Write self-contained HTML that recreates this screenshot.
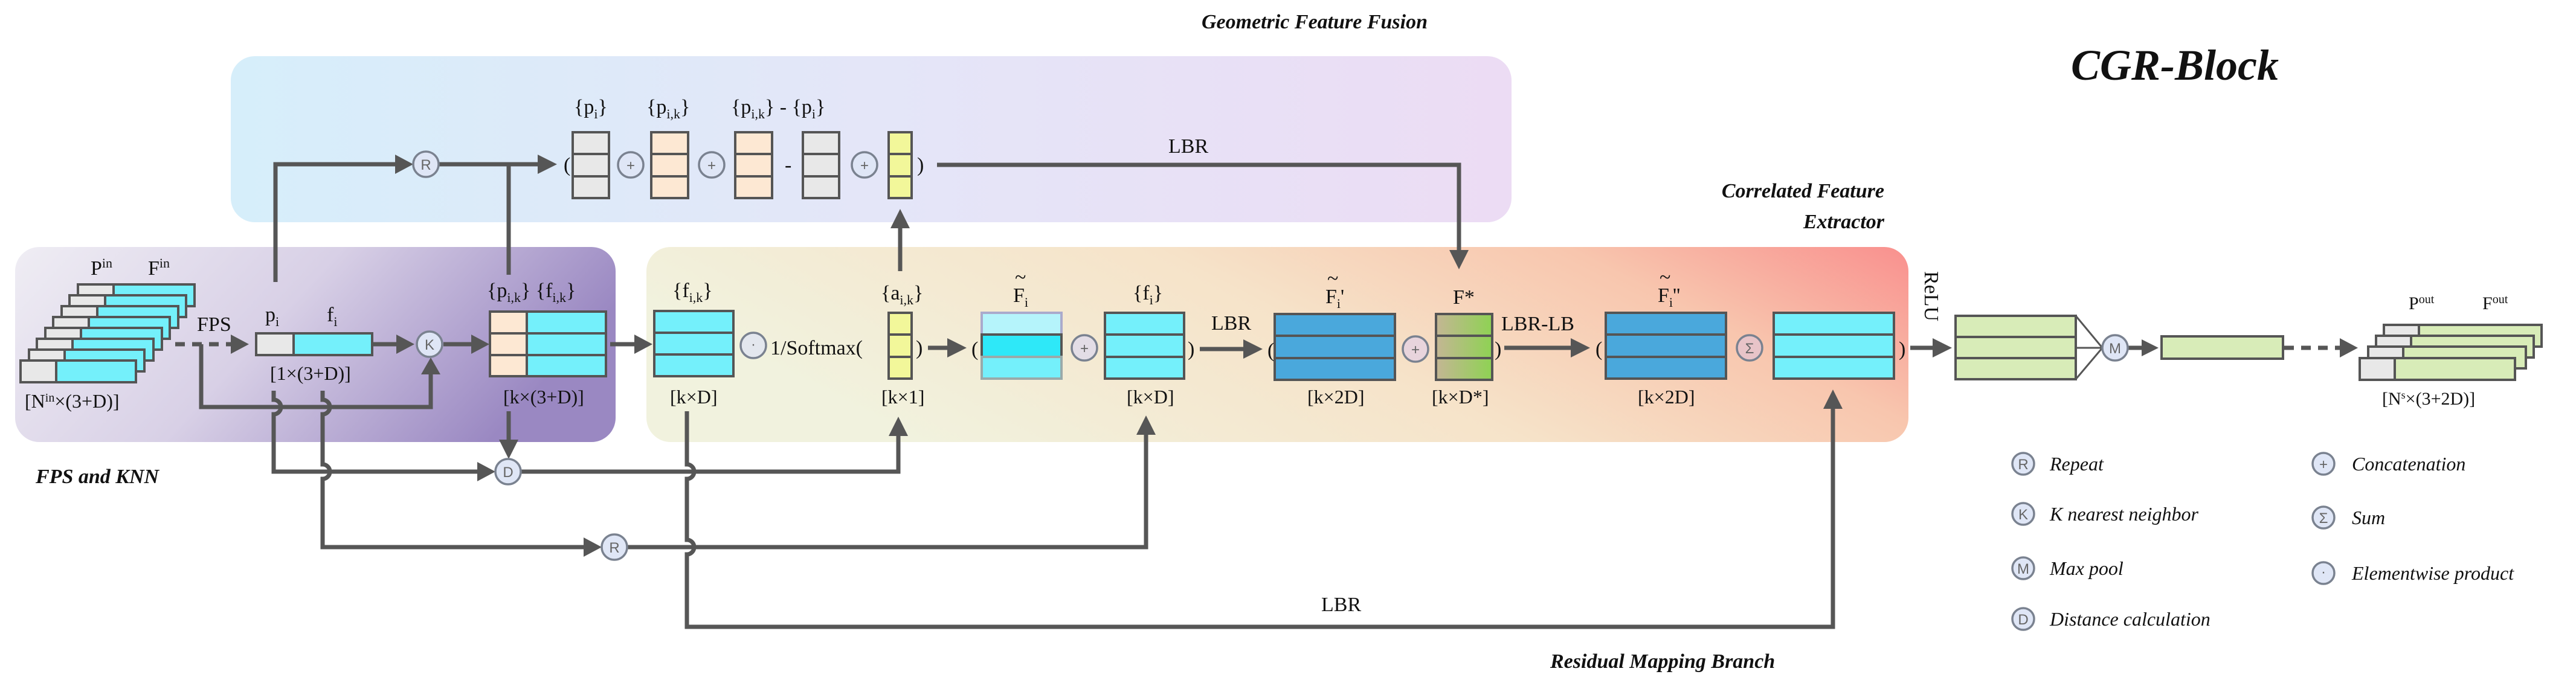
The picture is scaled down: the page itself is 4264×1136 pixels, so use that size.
<!DOCTYPE html>
<html><head><meta charset="utf-8"><style>
html,body{margin:0;padding:0;background:#fff;}
svg{display:block;font-family:"Liberation Serif","Times New Roman",serif;}
svg text{font-family:"Liberation Serif","Times New Roman",serif;fill:#111;}
svg text.lb{font-family:"Liberation Serif",serif;font-size:34px;}
svg text.it{font-family:"Liberation Serif",serif;font-style:italic;font-size:32px;}
svg text.ti{font-family:"Liberation Serif",serif;font-style:italic;font-weight:bold;font-size:34px;}
svg text.ct{font-family:"Liberation Sans",sans-serif;font-size:24px;fill:#666;text-anchor:middle;}
</style></head><body>
<svg width="4264" height="1136" viewBox="0 0 4264 1136" xmlns="http://www.w3.org/2000/svg" font-family="Liberation Serif, serif">
<defs>
<linearGradient id="gTop" x1="0" y1="0" x2="1" y2="0"><stop offset="0" stop-color="#d6eefa"/><stop offset="0.5" stop-color="#e4e6f8"/><stop offset="1" stop-color="#ecdcf4"/></linearGradient>
<linearGradient id="gPur" x1="0" y1="0" x2="1" y2="0.3"><stop offset="0" stop-color="#efedf4"/><stop offset="0.5" stop-color="#d8d0e6"/><stop offset="1" stop-color="#9a88c2"/></linearGradient>
<linearGradient id="gCor" x1="0" y1="0.3" x2="1" y2="0"><stop offset="0" stop-color="#f1f2de"/><stop offset="0.45" stop-color="#f6e3c9"/><stop offset="0.75" stop-color="#f8c6ae"/><stop offset="1" stop-color="#f9908e"/></linearGradient>
<linearGradient id="gF" x1="0" y1="0" x2="1" y2="0"><stop offset="0" stop-color="#c4b694"/><stop offset="1" stop-color="#8ed253"/></linearGradient>
</defs>

<rect x="382" y="93" width="2120" height="275" rx="40" fill="url(#gTop)"/>
<rect x="25" y="409" width="994" height="323" rx="40" fill="url(#gPur)"/>
<rect x="1070" y="409" width="2089" height="323" rx="40" fill="url(#gCor)"/>

<text class="ti" x="1989" y="47">Geometric Feature Fusion</text>
<text x="3428" y="132" font-family="Liberation Serif, serif" style="font-style:italic;font-weight:bold;font-size:72px;">CGR-Block</text>
<text class="ti" x="3119" y="327" text-anchor="end">Correlated Feature</text>
<text class="ti" x="3119" y="378" text-anchor="end">Extractor</text>
<text class="ti" x="59" y="800">FPS and KNN</text>
<text class="ti" x="2566" y="1106">Residual Mapping Branch</text>

<g stroke="#565656" stroke-width="7" fill="none">
<path d="M290 570 H384" stroke-dasharray="16 12"/>
<path d="M333 570 V674 H713 V620"/>
<path d="M616 570 H660"/><path d="M734 570 H780"/>
<path d="M456 467 V272 H656"/>
<path d="M726 272 H892"/>
<path d="M842 272 V455"/>
<path d="M453 647 V662 a12 12 0 0 1 0 24 V781 H790"/>
<path d="M534 647 V662 a12 12 0 0 1 0 24 V769 a12 12 0 0 1 0 24 V906 H966"/>
<path d="M842 681 V730"/>
<path d="M862 781 H1487 V720"/>
<path d="M1038 906 H1897 V718"/>
<path d="M1137 681 V769 a12 12 0 0 1 0 24 V894 a12 12 0 0 1 0 24 V1038 H3034 V675"/>
<path d="M1010 570 H1052"/>
<path d="M1490 449 V376"/>
<path d="M1551 273 H2415 V416"/>
<path d="M1536 576 H1570"/><path d="M1986 578 H2060"/><path d="M2490 576 H2602"/>
<path d="M3162 576 H3201"/><path d="M3522 576 H3545"/>
<path d="M3781 576 H3873" stroke-dasharray="16 12"/>
</g>
<g stroke="#565656" stroke-width="3" fill="none"><path d="M3436 523 L3480 576 L3436 628 M3436 576 H3480"/></g>

<g fill="#565656">
<polygon points="382,554 412,570 382,586"/>
<polygon points="656,554 686,570 656,586"/>
<polygon points="780,554 810,570 780,586"/>
<polygon points="697,620 713,592 729,620"/>
<polygon points="654,256 684,272 654,288"/>
<polygon points="890,256 922,272 890,288"/>
<polygon points="790,765 820,781 790,797"/>
<polygon points="966,890 996,906 966,922"/>
<polygon points="826,728 842,760 858,728"/>
<polygon points="1471,722 1487,690 1503,722"/>
<polygon points="1881,720 1897,688 1913,720"/>
<polygon points="3018,677 3034,645 3050,677"/>
<polygon points="1050,554 1080,570 1050,586"/>
<polygon points="1474,378 1490,346 1506,378"/>
<polygon points="2399,414 2415,446 2431,414"/>
<polygon points="1568,560 1600,576 1568,592"/>
<polygon points="2058,562 2090,578 2058,594"/>
<polygon points="2600,560 2632,576 2600,592"/>
<polygon points="3199,560 3231,576 3199,592"/>
<polygon points="3545,562 3573,576 3545,590"/>
<polygon points="3873,560 3903,576 3873,592"/>
</g>

<g stroke="#555" stroke-width="4">
<rect x="129" y="471" width="59" height="36" fill="#e8e8e8"/><rect x="188" y="471" width="134" height="36" fill="#74f0fb"/>
<rect x="115" y="489" width="59" height="36" fill="#e8e8e8"/><rect x="174" y="489" width="134" height="36" fill="#74f0fb"/>
<rect x="102" y="507" width="59" height="36" fill="#e8e8e8"/><rect x="161" y="507" width="134" height="36" fill="#74f0fb"/>
<rect x="88" y="525" width="59" height="36" fill="#e8e8e8"/><rect x="147" y="525" width="134" height="36" fill="#74f0fb"/>
<rect x="75" y="543" width="59" height="36" fill="#e8e8e8"/><rect x="134" y="543" width="134" height="36" fill="#74f0fb"/>
<rect x="61" y="561" width="59" height="36" fill="#e8e8e8"/><rect x="120" y="561" width="134" height="36" fill="#74f0fb"/>
<rect x="48" y="579" width="59" height="36" fill="#e8e8e8"/><rect x="107" y="579" width="132" height="36" fill="#74f0fb"/>
<rect x="34" y="597" width="59" height="36" fill="#e8e8e8"/><rect x="93" y="597" width="132" height="36" fill="#74f0fb"/>
<rect x="424" y="552" width="62" height="36" fill="#e8e8e8"/><rect x="486" y="552" width="130" height="36" fill="#74f0fb"/>
<rect x="811" y="516" width="61" height="36" fill="#fde8d3"/><rect x="811" y="552" width="61" height="36" fill="#fde8d3"/><rect x="811" y="588" width="61" height="35" fill="#fde8d3"/>
<rect x="872" y="516" width="131" height="36" fill="#74f0fb"/><rect x="872" y="552" width="131" height="36" fill="#74f0fb"/><rect x="872" y="588" width="131" height="35" fill="#74f0fb"/>
<rect x="948" y="219" width="60" height="36" fill="#e8e8e8"/><rect x="948" y="255" width="60" height="37" fill="#e8e8e8"/><rect x="948" y="292" width="60" height="36" fill="#e8e8e8"/>
<rect x="1078" y="219" width="61" height="36" fill="#fde8d3"/><rect x="1078" y="255" width="61" height="37" fill="#fde8d3"/><rect x="1078" y="292" width="61" height="36" fill="#fde8d3"/>
<rect x="1217" y="219" width="61" height="36" fill="#fde8d3"/><rect x="1217" y="255" width="61" height="37" fill="#fde8d3"/><rect x="1217" y="292" width="61" height="36" fill="#fde8d3"/>
<rect x="1329" y="219" width="60" height="36" fill="#e8e8e8"/><rect x="1329" y="255" width="60" height="37" fill="#e8e8e8"/><rect x="1329" y="292" width="60" height="36" fill="#e8e8e8"/>
<rect x="1471" y="219" width="38" height="36" fill="#f2f79a"/><rect x="1471" y="255" width="38" height="37" fill="#f2f79a"/><rect x="1471" y="292" width="38" height="36" fill="#f2f79a"/>
<rect x="1083" y="515" width="131" height="36" fill="#74f0fb"/><rect x="1083" y="551" width="131" height="36" fill="#74f0fb"/><rect x="1083" y="587" width="131" height="36" fill="#74f0fb"/>
<rect x="1471" y="518" width="38" height="36" fill="#f2f79a"/><rect x="1471" y="554" width="38" height="37" fill="#f2f79a"/><rect x="1471" y="591" width="38" height="36" fill="#f2f79a"/>
<rect x="1625" y="518" width="132" height="36" fill="#b5f4fb" stroke="#aac"/><rect x="1625" y="554" width="132" height="37" fill="#2ee8f8"/><rect x="1625" y="591" width="132" height="36" fill="#74f0fb" stroke="#9aa"/>
<rect x="1829" y="518" width="131" height="36" fill="#74f0fb"/><rect x="1829" y="554" width="131" height="37" fill="#74f0fb"/><rect x="1829" y="591" width="131" height="36" fill="#74f0fb"/>
<rect x="2110" y="520" width="199" height="36" fill="#4aa8dc"/><rect x="2110" y="556" width="199" height="37" fill="#4aa8dc"/><rect x="2110" y="593" width="199" height="36" fill="#4aa8dc"/>
<rect x="2377" y="520" width="93" height="36" fill="url(#gF)"/><rect x="2377" y="556" width="93" height="37" fill="url(#gF)"/><rect x="2377" y="593" width="93" height="36" fill="url(#gF)"/>
<rect x="2658" y="518" width="199" height="36" fill="#4aa8dc"/><rect x="2658" y="554" width="199" height="37" fill="#4aa8dc"/><rect x="2658" y="591" width="199" height="36" fill="#4aa8dc"/>
<rect x="2936" y="518" width="199" height="36" fill="#74f0fb"/><rect x="2936" y="554" width="199" height="37" fill="#74f0fb"/><rect x="2936" y="591" width="199" height="36" fill="#74f0fb"/>
<rect x="3237" y="523" width="199" height="35" fill="#d8ecb8"/><rect x="3237" y="558" width="199" height="35" fill="#d8ecb8"/><rect x="3237" y="593" width="199" height="35" fill="#d8ecb8"/>
<rect x="3578" y="557" width="201" height="37" fill="#d8ecb8"/>
<rect x="3946" y="538" width="58" height="36" fill="#e8e8e8"/><rect x="4004" y="538" width="203" height="36" fill="#d8ecb8"/>
<rect x="3933" y="556" width="58" height="36" fill="#e8e8e8"/><rect x="3991" y="556" width="203" height="36" fill="#d8ecb8"/>
<rect x="3920" y="574" width="58" height="36" fill="#e8e8e8"/><rect x="3978" y="574" width="203" height="36" fill="#d8ecb8"/>
<rect x="3906" y="593" width="58" height="36" fill="#e8e8e8"/><rect x="3964" y="593" width="199" height="36" fill="#d8ecb8"/>
</g>

<g stroke="#7a8290" stroke-width="3.5" fill="#dfe6f6">
<circle cx="711" cy="570" r="21"/><circle cx="705" cy="272" r="21"/>
<circle cx="841" cy="781" r="21"/><circle cx="1017" cy="906" r="21"/>
<circle cx="1044" cy="273" r="21"/><circle cx="1178" cy="273" r="21"/><circle cx="1431" cy="273" r="21"/>
<circle cx="1247" cy="572" r="21" fill="#e3e7ee"/>
<circle cx="1795" cy="576" r="21" fill="#e3dde6"/><circle cx="2343" cy="578" r="21" fill="#e8d4dc"/>
<circle cx="2896" cy="576" r="21" fill="#e8c4c8"/><circle cx="3501" cy="576" r="21"/>
<circle cx="3349" cy="768" r="18"/><circle cx="3349" cy="851" r="18"/><circle cx="3349" cy="941" r="18"/><circle cx="3349" cy="1025" r="18"/>
<circle cx="3846" cy="768" r="18"/><circle cx="3846" cy="857" r="18"/><circle cx="3846" cy="949" r="18"/>
</g>
<g>
<text class="ct" x="711" y="579">K</text><text class="ct" x="705" y="281">R</text>
<text class="ct" x="841" y="790">D</text><text class="ct" x="1017" y="915">R</text>
<text class="ct" x="1044" y="282">+</text><text class="ct" x="1178" y="282">+</text><text class="ct" x="1431" y="282">+</text>
<text class="ct" x="1247" y="578">·</text><text class="ct" x="1795" y="585">+</text><text class="ct" x="2343" y="587">+</text>
<text class="ct" x="2896" y="585">Σ</text><text class="ct" x="3501" y="585">M</text>
<text class="ct" x="3349" y="777">R</text><text class="ct" x="3349" y="860">K</text><text class="ct" x="3349" y="950">M</text><text class="ct" x="3349" y="1034">D</text>
<text class="ct" x="3846" y="777">+</text><text class="ct" x="3846" y="866">Σ</text><text class="ct" x="3846" y="955">·</text>
</g>

<text class="it" x="3393" y="779">Repeat</text>
<text class="it" x="3393" y="862">K nearest neighbor</text>
<text class="it" x="3393" y="952">Max pool</text>
<text class="it" x="3393" y="1036">Distance calculation</text>
<text class="it" x="3893" y="779">Concatenation</text>
<text class="it" x="3893" y="868">Sum</text>
<text class="it" x="3893" y="960">Elementwise product</text>

<text class="lb" x="150" y="455">P<tspan font-size="22" dy="-12">in</tspan></text>
<text class="lb" x="245" y="455">F<tspan font-size="22" dy="-12">in</tspan></text>
<text class="lb" x="41" y="675" style="font-size:32px">[N<tspan font-size="20" dy="-10">in</tspan><tspan dy="10">×(3+D)]</tspan></text>
<text class="lb" x="326" y="548">FPS</text>
<text class="lb" x="439" y="532">p<tspan font-size="22" dy="8">i</tspan></text>
<text class="lb" x="541" y="532">f<tspan font-size="22" dy="8">i</tspan></text>
<text class="lb" x="447" y="629" style="font-size:32px">[1×(3+D)]</text>
<text class="lb" x="806" y="492">{p<tspan font-size="22" dy="8">i,k</tspan><tspan dy="-8">} {f</tspan><tspan font-size="22" dy="8">i,k</tspan><tspan dy="-8">}</tspan></text>
<text class="lb" x="833" y="668" style="font-size:32px">[k×(3+D)]</text>
<text class="lb" x="950" y="188">{p<tspan font-size="22" dy="8">i</tspan><tspan dy="-8">}</tspan></text>
<text class="lb" x="1070" y="188">{p<tspan font-size="22" dy="8">i,k</tspan><tspan dy="-8">}</tspan></text>
<text class="lb" x="1210" y="188">{p<tspan font-size="22" dy="8">i,k</tspan><tspan dy="-8">} - {p</tspan><tspan font-size="22" dy="8">i</tspan><tspan dy="-8">}</tspan></text>
<text class="lb" x="933" y="284">(</text>
<text class="lb" x="1299" y="284">-</text>
<text class="lb" x="1518" y="284">)</text>
<text class="lb" x="1934" y="253">LBR</text>
<text class="lb" x="1113" y="492">{f<tspan font-size="22" dy="8">i,k</tspan><tspan dy="-8">}</tspan></text>
<text class="lb" x="1109" y="668" style="font-size:32px">[k×D]</text>
<text class="lb" x="1275" y="587">1/Softmax(</text>
<text class="lb" x="1516" y="587">)</text>
<text class="lb" x="1458" y="496">{a<tspan font-size="22" dy="8">i,k</tspan><tspan dy="-8">}</tspan></text>
<text class="lb" x="1459" y="668" style="font-size:32px">[k×1]</text>
<text class="lb" x="1608" y="589">(</text>
<text class="lb" x="1677" y="500">F<tspan font-size="22" dy="8">i</tspan></text>
<text class="lb" x="1680" y="470">~</text>
<text class="lb" x="1875" y="496">{f<tspan font-size="22" dy="8">i</tspan><tspan dy="-8">}</tspan></text>
<text class="lb" x="1865" y="668" style="font-size:32px">[k×D]</text>
<text class="lb" x="1966" y="589">)</text>
<text class="lb" x="2005" y="546">LBR</text>
<text class="lb" x="2098" y="591">(</text>
<text class="lb" x="2194" y="502">F<tspan font-size="22" dy="8">i</tspan><tspan dy="-8">'</tspan></text>
<text class="lb" x="2197" y="472">~</text>
<text class="lb" x="2164" y="668" style="font-size:32px">[k×2D]</text>
<text class="lb" x="2405" y="503">F*</text>
<text class="lb" x="2370" y="668" style="font-size:32px">[k×D*]</text>
<text class="lb" x="2474" y="589">)</text>
<text class="lb" x="2485" y="547">LBR-LB</text>
<text class="lb" x="2641" y="589">(</text>
<text class="lb" x="2744" y="500">F<tspan font-size="22" dy="8">i</tspan><tspan dy="-8">''</tspan></text>
<text class="lb" x="2747" y="470">~</text>
<text class="lb" x="2711" y="668" style="font-size:32px">[k×2D]</text>
<text class="lb" x="3143" y="589">)</text>
<text class="lb" x="3186" y="449" transform="rotate(90 3186 449)">ReLU</text>
<text class="lb" x="3987" y="512" style="font-size:30px">P<tspan font-size="20" dy="-10">out</tspan></text>
<text class="lb" x="4109" y="512" style="font-size:30px">F<tspan font-size="20" dy="-10">out</tspan></text>
<text class="lb" x="3943" y="670" style="font-size:30px">[N<tspan font-size="18" dy="-10">s</tspan><tspan dy="10">×(3+2D)]</tspan></text>
<text class="lb" x="2187" y="1012">LBR</text>
</svg>
</body></html>
